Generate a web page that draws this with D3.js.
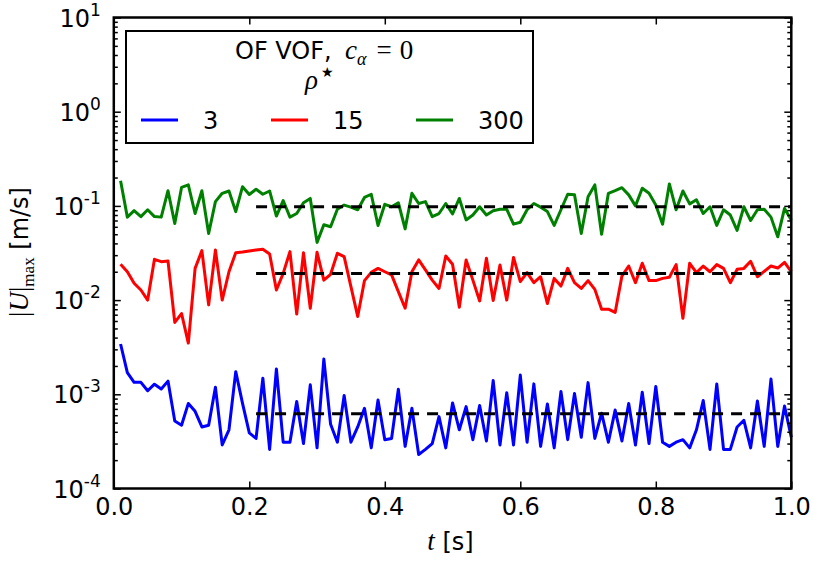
<!DOCTYPE html>
<html>
<head>
<meta charset="utf-8">
<script src="https://cdnjs.cloudflare.com/ajax/libs/d3/7.8.5/d3.min.js"></script>
<style>
body{margin:0;background:#fff;}
text{font-family:"DejaVu Sans",sans-serif;fill:#000;}
.mi{font-family:"Liberation Serif","DejaVu Serif",serif;font-style:italic;}
.mr{font-family:"Liberation Serif","DejaVu Serif",serif;font-style:normal;}
</style>
</head>
<body>
<div id="chart"></div>
<script>
// sample times [s]
var time = [0.01,0.02,0.03,0.04,0.05,0.06,0.07,0.08,0.09,0.10,
            0.11,0.12,0.13,0.14,0.15,0.16,0.17,0.18,0.19,0.20,
            0.21,0.22,0.23,0.24,0.25,0.26,0.27,0.28,0.29,0.30,
            0.31,0.32,0.33,0.34,0.35,0.36,0.37,0.38,0.39,0.40,
            0.41,0.42,0.43,0.44,0.45,0.46,0.47,0.48,0.49,0.50,
            0.51,0.52,0.53,0.54,0.55,0.56,0.57,0.58,0.59,0.60,
            0.61,0.62,0.63,0.64,0.65,0.66,0.67,0.68,0.69,0.70,
            0.71,0.72,0.73,0.74,0.75,0.76,0.77,0.78,0.79,0.80,
            0.81,0.82,0.83,0.84,0.85,0.86,0.87,0.88,0.89,0.90,
            0.91,0.92,0.93,0.94,0.95,0.96,0.97,0.98,0.99,1.00];

// |U|max for rho* = 3
var rho3 = [0.00342,0.00170,0.00134,0.00134,0.00109,0.00128,0.00114,0.00138,0.00052,0.00047,
            0.00080,0.00066,0.00045,0.00047,0.00119,0.00029,0.00042,0.00174,0.00080,0.00039,
            0.00034,0.00148,0.00026,0.00186,0.00031,0.00031,0.00084,0.00030,0.00126,0.00027,
            0.00237,0.00048,0.00031,0.00097,0.00031,0.00045,0.00071,0.00027,0.00087,0.00033,
            0.00034,0.00113,0.00028,0.00071,0.00023,0.00026,0.00030,0.00058,0.00027,0.00081,
            0.00042,0.00074,0.00033,0.00076,0.00032,0.00140,0.00029,0.00104,0.00029,0.00160,
            0.00031,0.00129,0.00028,0.00079,0.00027,0.00107,0.00033,0.00102,0.00035,0.00133,
            0.00034,0.00063,0.00031,0.00068,0.00032,0.00080,0.00029,0.00105,0.00030,0.00121,
            0.00031,0.00028,0.00031,0.00033,0.00027,0.00042,0.00086,0.00026,0.00129,0.00026,
            0.00026,0.00045,0.00053,0.00027,0.00085,0.00028,0.00145,0.00028,0.00075,0.00035];

// rho* = 15
var rho15 = [0.0240,0.0200,0.0151,0.0128,0.0100,0.0271,0.0256,0.0260,0.0058,0.0072,
             0.0035,0.0217,0.0335,0.0089,0.0340,0.0100,0.0200,0.0319,0.0324,0.0332,
             0.0340,0.0346,0.0309,0.0128,0.0192,0.0327,0.0071,0.0319,0.0082,0.0322,
             0.0163,0.0188,0.0314,0.0289,0.0139,0.0067,0.0161,0.0197,0.0217,0.0200,
             0.0185,0.0123,0.0082,0.0200,0.0267,0.0209,0.0163,0.0133,0.0294,0.0240,
             0.0084,0.0267,0.0163,0.0098,0.0278,0.0099,0.0236,0.0100,0.0284,0.0157,
             0.0196,0.0153,0.0177,0.0092,0.0170,0.0141,0.0217,0.0153,0.0133,0.0161,
             0.0130,0.0080,0.0080,0.0074,0.0180,0.0230,0.0153,0.0246,0.0161,0.0161,
             0.0170,0.0175,0.0238,0.0064,0.0246,0.0196,0.0230,0.0200,0.0238,0.0217,
             0.0153,0.0212,0.0217,0.0258,0.0177,0.0202,0.0230,0.0219,0.0252,0.0200];

// rho* = 300
var rho300 = [0.185,0.076,0.089,0.077,0.091,0.077,0.076,0.145,0.065,0.157,
              0.167,0.083,0.145,0.051,0.111,0.136,0.144,0.087,0.160,0.132,
              0.150,0.133,0.144,0.078,0.114,0.076,0.083,0.108,0.120,0.041,
              0.063,0.060,0.092,0.102,0.097,0.091,0.123,0.133,0.062,0.104,
              0.098,0.108,0.057,0.136,0.106,0.111,0.077,0.083,0.106,0.082,
              0.120,0.071,0.080,0.098,0.080,0.089,0.092,0.092,0.064,0.067,
              0.091,0.106,0.097,0.087,0.062,0.091,0.133,0.131,0.051,0.125,
              0.167,0.050,0.136,0.145,0.156,0.131,0.100,0.154,0.136,0.102,
              0.064,0.171,0.091,0.144,0.105,0.116,0.083,0.098,0.062,0.091,
              0.080,0.055,0.098,0.070,0.091,0.092,0.076,0.047,0.094,0.071];

// time-averaged levels (dashed)
var meanT = [0.21, 1.0];
var meanVals = [0.00062, 0.0192, 0.098];

var legendLabels = ["3", "15", "300"];
var colors = ["#0000ff", "#ff0000", "#008000"];
var xTicks = [0, 0.2, 0.4, 0.6, 0.8, 1.0];
var yPowers = [-4, -3, -2, -1, 0, 1];

var fullWidth = 813, fullHeight = 561;
var margin = {top:17.5, right:21.7, bottom:72.5, left:113.8};
var width = fullWidth - margin.left - margin.right;
var height = fullHeight - margin.top - margin.bottom;

var root = d3.select("#chart").append("svg")
    .attr("width", fullWidth)
    .attr("height", fullHeight);
var svg = root.append("g")
    .attr("transform", "translate(" + margin.left + "," + margin.top + ")");

var xScale = d3.scaleLinear().domain([0, 1]).range([0, width]);
var yScale = d3.scaleLog().domain([1e-4, 10]).range([height, 0]);

// minor log ticks
var minor = [];
yPowers.slice(0, -1).forEach(function(p){
  for (var k = 2; k <= 9; k++) minor.push(k * Math.pow(10, p));
});
var major = yPowers.map(function(p){ return Math.pow(10, p); });

// series
var series = [rho3, rho15, rho300];
var line = d3.line()
    .x(function(d){ return xScale(d[0]); })
    .y(function(d){ return yScale(d[1]); });

series.forEach(function(s, i){
  svg.append("path")
     .datum(time.map(function(t, j){ return [t, s[j]]; }))
     .attr("d", line)
     .attr("fill", "none")
     .attr("stroke", colors[i])
     .attr("stroke-width", 3)
     .attr("stroke-linejoin", "round");
});

meanVals.forEach(function(m){
  svg.append("path")
     .datum(meanT.map(function(t){ return [t, m]; }))
     .attr("d", line)
     .attr("fill", "none")
     .attr("stroke", "#000")
     .attr("stroke-width", 3)
     .attr("stroke-dasharray", "11,8");
});

// axes, ticks pointing inward
function styleAxis(g){
  g.select(".domain").remove();
  g.selectAll(".tick line").attr("stroke", "#000").attr("stroke-width", 1.5);
}

svg.append("g")
   .attr("transform", "translate(0," + height + ")")
   .call(d3.axisBottom(xScale).tickValues(xTicks).tickSize(-7).tickPadding(9)
         .tickFormat(d3.format(".1f")))
   .call(styleAxis)
   .selectAll("text")
   .style("font-family", "DejaVu Sans")
   .style("font-size", "24px");

svg.append("g")
   .call(d3.axisTop(xScale).tickValues(xTicks).tickSize(-7).tickFormat(""))
   .call(styleAxis);

[[d3.axisLeft, 0], [d3.axisRight, width]].forEach(function(a){
  svg.append("g").attr("transform", "translate(" + a[1] + ",0)")
     .call(a[0](yScale).tickValues(major).tickSize(-7).tickFormat(""))
     .call(styleAxis);
  svg.append("g").attr("transform", "translate(" + a[1] + ",0)")
     .call(a[0](yScale).tickValues(minor).tickSize(-4).tickFormat(""))
     .call(styleAxis);
});

// y tick labels 10^p
yPowers.forEach(function(p){
  var t = svg.append("text")
     .attr("x", -13)
     .attr("y", yScale(Math.pow(10, p)) + 9)
     .attr("text-anchor", "end")
     .style("font-size", "24px");
  t.append("tspan").text("10");
  t.append("tspan").attr("dy", -11).style("font-size", "17px").text(p);
});

// frame
svg.append("rect")
   .attr("width", width).attr("height", height)
   .attr("fill", "none").attr("stroke", "#000").attr("stroke-width", 2.5);

// axis titles
var xl = root.append("text").attr("x", margin.left + width / 2 - 2).attr("y", 550)
    .attr("text-anchor", "middle").style("font-size", "24px");
xl.append("tspan").attr("class", "mi").style("font-size", "27px").text("t");
xl.append("tspan").text(" [s]");

var yl = root.append("text")
    .attr("transform", "translate(28,252) rotate(-90)")
    .attr("text-anchor", "middle").style("font-size", "24px");
yl.append("tspan").attr("class", "mr").style("font-size", "27px").text("|");
yl.append("tspan").attr("class", "mi").style("font-size", "27px").text("U");
yl.append("tspan").attr("class", "mr").style("font-size", "27px").text("|");
yl.append("tspan").attr("class", "mr").attr("dy", 6).style("font-size", "17px").text("max");
yl.append("tspan").attr("dy", -6).text(" [m/s]");

// legend
var lg = root.append("g");
lg.append("rect")
  .attr("x", 126).attr("y", 31).attr("width", 407).attr("height", 112)
  .attr("fill", "#fff").attr("stroke", "#000").attr("stroke-width", 2);

lg.append("text").attr("x", 235).attr("y", 59).style("font-size", "24px").text("OF VOF,");
var ca = lg.append("text").attr("x", 345).attr("y", 59).style("font-size", "27px");
ca.append("tspan").attr("class", "mi").text("c");
ca.append("tspan").attr("class", "mi").attr("dy", 6).style("font-size", "18px").text("α");
ca.append("tspan").attr("class", "mr").attr("dy", -6).attr("dx", 10).text("=");
ca.append("tspan").attr("class", "mr").attr("dx", 8).text("0");

var rh = lg.append("text").attr("x", 305).attr("y", 89).style("font-size", "27px");
rh.append("tspan").attr("class", "mi").text("ρ");
rh.append("tspan").attr("dy", -12).attr("dx", 3).style("font-size", "14px").text("★");

var entryX = [141, 271, 416];
legendLabels.forEach(function(lab, i){
  lg.append("line")
    .attr("x1", entryX[i]).attr("x2", entryX[i] + 37)
    .attr("y1", 120).attr("y2", 120)
    .attr("stroke", colors[i]).attr("stroke-width", 3);
  lg.append("text")
    .attr("x", entryX[i] + 62).attr("y", 129)
    .style("font-size", "24px").text(lab);
});
</script>
</body>
</html>
